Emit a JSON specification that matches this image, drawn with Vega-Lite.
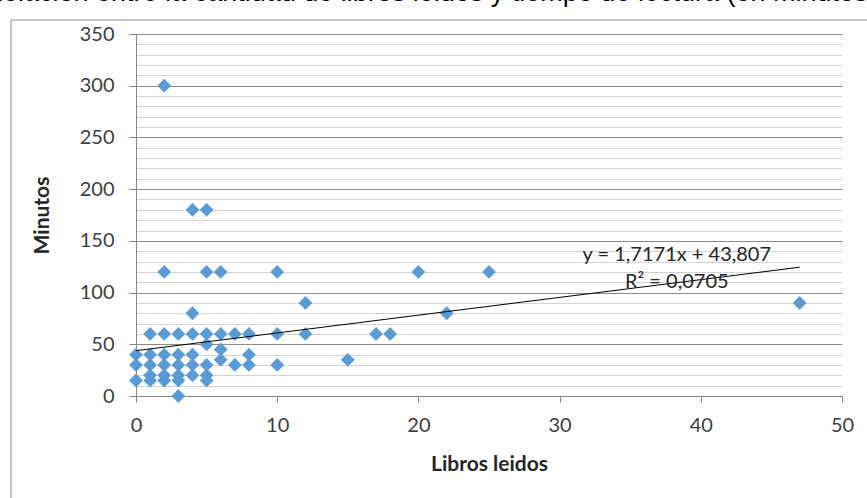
{
  "$schema": "https://vega.github.io/schema/vega-lite/v6.json",
  "width": 706,
  "height": 362,
  "autosize": {"type": "none"},
  "padding": {"left": 136, "top": 34, "right": 25, "bottom": 102},
  "background": "white",
  "title": {
    "text": "Relación entre la cantidad de libros leidos y tiempo de lectura (en minutos)",
    "anchor": "middle",
    "frame": "group",
    "dx": -59,
    "dy": 18,
    "baseline": "bottom",
    "offset": 4,
    "font": "Liberation Sans",
    "fontSize": 27,
    "fontWeight": "normal",
    "color": "#000000"
  },
  "config": {
    "view": {"stroke": null},
    "axis": {
      "labelFont": "Lato",
      "labelFontSize": 20,
      "labelColor": "#404040",
      "titleFont": "Lato",
      "titleFontSize": 21,
      "titleFontWeight": "bold",
      "titleColor": "#262626",
      "domainColor": "#868686",
      "tickColor": "#868686",
      "labelOverlap": false
    }
  },
  "datasets": {
    "lectura": [
      {"libros": 0, "minutos": 15}, {"libros": 0, "minutos": 30}, {"libros": 0, "minutos": 40},
      {"libros": 1, "minutos": 15}, {"libros": 1, "minutos": 20}, {"libros": 1, "minutos": 30}, {"libros": 1, "minutos": 40}, {"libros": 1, "minutos": 60},
      {"libros": 2, "minutos": 15}, {"libros": 2, "minutos": 20}, {"libros": 2, "minutos": 30}, {"libros": 2, "minutos": 40}, {"libros": 2, "minutos": 60}, {"libros": 2, "minutos": 120}, {"libros": 2, "minutos": 300},
      {"libros": 3, "minutos": 0}, {"libros": 3, "minutos": 15}, {"libros": 3, "minutos": 20}, {"libros": 3, "minutos": 30}, {"libros": 3, "minutos": 40}, {"libros": 3, "minutos": 60},
      {"libros": 4, "minutos": 20}, {"libros": 4, "minutos": 30}, {"libros": 4, "minutos": 40}, {"libros": 4, "minutos": 60}, {"libros": 4, "minutos": 80}, {"libros": 4, "minutos": 180},
      {"libros": 5, "minutos": 15}, {"libros": 5, "minutos": 20}, {"libros": 5, "minutos": 30}, {"libros": 5, "minutos": 50}, {"libros": 5, "minutos": 60}, {"libros": 5, "minutos": 120}, {"libros": 5, "minutos": 180},
      {"libros": 6, "minutos": 35}, {"libros": 6, "minutos": 45}, {"libros": 6, "minutos": 60}, {"libros": 6, "minutos": 120},
      {"libros": 7, "minutos": 30}, {"libros": 7, "minutos": 60},
      {"libros": 8, "minutos": 30}, {"libros": 8, "minutos": 40}, {"libros": 8, "minutos": 60},
      {"libros": 10, "minutos": 30}, {"libros": 10, "minutos": 60}, {"libros": 10, "minutos": 120},
      {"libros": 12, "minutos": 60}, {"libros": 12, "minutos": 90},
      {"libros": 15, "minutos": 35},
      {"libros": 17, "minutos": 60}, {"libros": 18, "minutos": 60},
      {"libros": 20, "minutos": 120}, {"libros": 22, "minutos": 80}, {"libros": 25, "minutos": 120},
      {"libros": 47, "minutos": 90}
    ],
    "tendencia": [
      {"libros": 0, "minutos": 43.807},
      {"libros": 47, "minutos": 124.51}
    ]
  },
  "layer": [
    {
      "data": {"name": "lectura"},
      "mark": {"type": "point", "shape": "diamond", "filled": true, "size": 190, "color": "#5B9BD5", "opacity": 1},
      "encoding": {
        "x": {
          "field": "libros", "type": "quantitative",
          "scale": {"domain": [0, 50], "nice": false, "zero": false},
          "axis": {
            "title": "Libros leidos",
            "values": [0, 10, 20, 30, 40, 50],
            "format": "d",
            "labelFlush": false,
            "grid": false,
            "tickSize": 6,
            "labelPadding": 13,
            "titlePadding": 18
          }
        },
        "y": {
          "field": "minutos", "type": "quantitative",
          "scale": {"domain": [0, 350], "nice": false, "zero": false},
          "axis": {
            "title": "Minutos",
            "values": [0,10,20,30,40,50,60,70,80,90,100,110,120,130,140,150,160,170,180,190,200,210,220,230,240,250,260,270,280,290,300,310,320,330,340,350],
            "tickCount": 100,
            "format": "d",
            "labelExpr": "datum.value % 50 === 0 ? datum.label : ''",
            "grid": true,
            "gridColor": {"condition": {"test": "datum.value % 50 === 0", "value": "#8c8c8c"}, "value": "#d4d4d4"},
            "gridWidth": 1,
            "tickOpacity": {"condition": {"test": "datum.value % 50 === 0", "value": 1}, "value": 0},
            "tickSize": 7,
            "labelPadding": 15,
            "titlePadding": 27
          }
        }
      }
    },
    {
      "data": {"name": "tendencia"},
      "mark": {"type": "line", "color": "#000000", "strokeWidth": 1},
      "encoding": {
        "x": {"field": "libros", "type": "quantitative"},
        "y": {"field": "minutos", "type": "quantitative"}
      }
    },
    {
      "data": {"values": [{"t": "y = 1,7171x + 43,807"}]},
      "mark": {"type": "text", "font": "Lato", "fontSize": 20, "color": "#262626", "align": "center", "baseline": "middle"},
      "encoding": {"x": {"datum": 38.3}, "y": {"datum": 136.3}, "text": {"field": "t"}}
    },
    {
      "data": {"values": [{"t": "R² = 0,0705"}]},
      "mark": {"type": "text", "font": "Lato", "fontSize": 20, "color": "#262626", "align": "center", "baseline": "middle"},
      "encoding": {"x": {"datum": 38.3}, "y": {"datum": 110.2}, "text": {"field": "t"}}
    },
    {
      "data": {"values": [{}]},
      "mark": {"type": "rule", "color": "#8c8c8c", "strokeWidth": 1},
      "encoding": {"x": {"datum": -8.85}, "y": {"datum": 363.5}, "y2": {"datum": -150}}
    },
    {
      "data": {"values": [{}]},
      "mark": {"type": "rule", "color": "#8c8c8c", "strokeWidth": 1},
      "encoding": {"x": {"datum": -8.85}, "x2": {"datum": 60}, "y": {"datum": 363.5}}
    }
  ]
}
